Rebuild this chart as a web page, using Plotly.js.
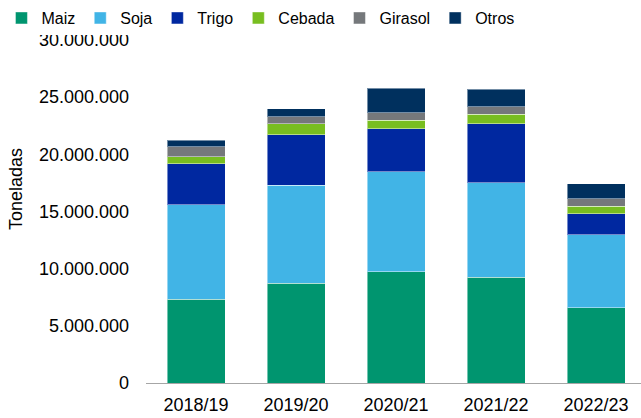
<!DOCTYPE html>
<html>
<head>
<meta charset="utf-8">
<script src="https://cdn.plot.ly/plotly-3.0.1.min.js"></script>
<style>html,body{margin:0;padding:0;background:#fff;}#chart{width:641px;height:418px;}</style>
</head>
<body>
<div id="chart"></div>
<script>
const campanas = ["2018/19", "2019/20", "2020/21", "2021/22", "2022/23"];
const maiz    = [7320000, 8720000, 9740000, 9250000, 6590000];
const soja    = [8280000, 8580000, 8750000, 8270000, 6360000];
const trigo   = [3590000, 4420000, 3760000, 5170000, 1860000];
const cebada  = [580000, 940000, 750000, 820000, 650000];
const girasol = [900000, 610000, 620000, 640000, 660000];
const otros   = [560000, 700000, 2160000, 1540000, 1320000];
const yTicks  = [0, 5000000, 10000000, 15000000, 20000000, 25000000, 30000000];

const series = [
  {name: "Maiz", y: maiz, color: "#00956F"},
  {name: "Soja", y: soja, color: "#41B4E6"},
  {name: "Trigo", y: trigo, color: "#0028A0"},
  {name: "Cebada", y: cebada, color: "#78BE20"},
  {name: "Girasol", y: girasol, color: "#75787B"},
  {name: "Otros", y: otros, color: "#00305E"}
];

const traces = series.map(s => ({
  type: "bar",
  name: s.name,
  x: campanas,
  y: s.y,
  marker: {color: s.color, line: {color: "rgba(255,255,255,0.45)", width: 1}},
  hoverinfo: "x+y+name"
}));

const layout = {
  width: 641,
  height: 418,
  barmode: "stack",
  bargap: 0.42,
  separators: ",.",
  font: {family: "Liberation Sans, Arial, sans-serif", size: 17, color: "#000"},
  paper_bgcolor: "#fff",
  plot_bgcolor: "#fff",
  margin: {l: 146, r: 0, t: 40, b: 35, pad: 0, autoexpand: false},
  showlegend: true,
  legend: {
    orientation: "h",
    x: -0.292, y: 1.064, xanchor: "left", yanchor: "middle",
    font: {size: 16, color: "#000"},
    traceorder: "normal",
    itemclick: false
  },
  xaxis: {
    type: "category",
    range: [-0.5, 4.45],
    showline: true, linecolor: "#A6A6A6", linewidth: 1,
    ticks: "", showgrid: false, zeroline: false,
    ticklabelstandoff: 5,
    tickfont: {size: 18},
    automargin: false
  },
  yaxis: {
    range: [0, 30000000],
    tickvals: yTicks,
    tickformat: ",d",
    showgrid: false, zeroline: false, showline: false,
    ticks: "",
    ticklabelstandoff: 16,
    tickfont: {size: 18},
    automargin: false
  },
  annotations: [{
    text: "Toneladas",
    textangle: -90,
    xref: "paper", yref: "paper",
    x: -0.263, y: 0.565,
    xanchor: "center", yanchor: "middle",
    showarrow: false,
    font: {size: 18, color: "#000"}
  }]
};

Plotly.newPlot("chart", traces, layout, {displayModeBar: false, staticPlot: true});
</script>
</body>
</html>
